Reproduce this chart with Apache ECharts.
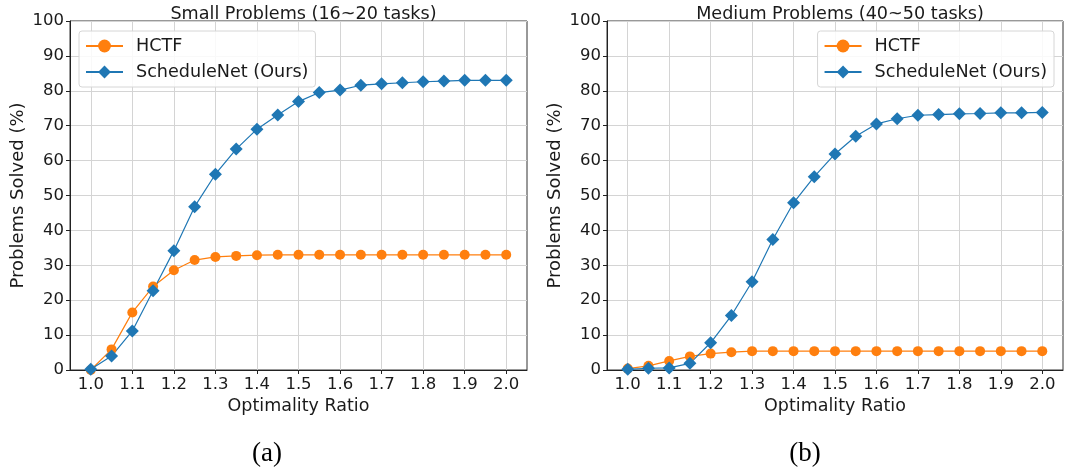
<!DOCTYPE html>
<html>
<head>
<meta charset="utf-8">
<script src="https://cdn.jsdelivr.net/npm/echarts@6/dist/echarts.min.js"></script>
<style>
  html, body { margin: 0; padding: 0; background: #fff; }
  #chart { width: 1065px; height: 469px; }
</style>
</head>
<body>
<div id="chart"></div>
<script>
// optimality ratio thresholds (x) and % of problems solved (y)
const ratios = [1.0, 1.05, 1.1, 1.15, 1.2, 1.25, 1.3, 1.35, 1.4, 1.45, 1.5,
                1.55, 1.6, 1.65, 1.7, 1.75, 1.8, 1.85, 1.9, 1.95, 2.0];
const xTicks = [1.0, 1.1, 1.2, 1.3, 1.4, 1.5, 1.6, 1.7, 1.8, 1.9, 2.0];

// (a) small problems
const hctfSmall = [0, 5.9, 16.5, 23.9, 28.6, 31.5, 32.4, 32.7, 32.9, 33.0, 33.0,
                   33.0, 33.0, 33.0, 33.0, 33.0, 33.0, 33.0, 33.0, 33.0, 33.0];
const schedSmall = [0.2, 4.0, 11.2, 22.7, 34.2, 46.8, 56.1, 63.3, 69.0, 73.1, 76.9,
                    79.5, 80.2, 81.6, 82.0, 82.3, 82.6, 82.8, 83.0, 83.0, 83.0];

// (b) medium problems
const hctfMed = [0.4, 1.2, 2.6, 3.9, 4.7, 5.1, 5.4, 5.4, 5.4, 5.4, 5.4,
                 5.4, 5.4, 5.4, 5.4, 5.4, 5.4, 5.4, 5.4, 5.4, 5.4];
const schedMed = [0.2, 0.5, 0.6, 1.9, 7.8, 15.6, 25.3, 37.4, 47.9, 55.4, 61.9,
                  67.0, 70.5, 72.0, 73.0, 73.2, 73.4, 73.5, 73.7, 73.7, 73.8];

const titles = ['Small Problems (16~20 tasks)', 'Medium Problems (40~50 tasks)'];
const captions = ['(a)', '(b)'];

const FONT = 'DejaVu Sans';
const INK = '#1a1a1a';
const ORANGE = '#ff7f0e', BLUE = '#1f77b4';
const pairs = (ys) => ratios.map((r, i) => [r, ys[i]]);

const grids = [
  { left: 70, top: 21, width: 457, height: 349 },
  { left: 607, top: 21, width: 456, height: 349 }
];

const chart = echarts.init(document.getElementById('chart'), null, { renderer: 'canvas' });

function xAxis(i) {
  return {
    type: 'value', gridIndex: i, min: 0.95, max: 2.05,
    name: 'Optimality Ratio', nameLocation: 'middle', nameGap: 25,
    nameTextStyle: { fontFamily: FONT, fontSize: 17.5, color: INK },
    axisLine: { show: true, onZero: false, lineStyle: { color: '#222', width: 1 } },
    axisTick: { show: true, length: 4, inside: false, customValues: xTicks, lineStyle: { color: '#222' } },
    axisLabel: { customValues: xTicks, margin: 6, fontFamily: FONT, fontSize: 16.5, color: INK,
                 formatter: v => v.toFixed(1) },
    splitLine: { show: true, lineStyle: { color: '#d4d4d4', width: 1 } }
  };
}

function yAxis(i) {
  return {
    type: 'value', gridIndex: i, min: 0, max: 100, interval: 10,
    name: 'Problems Solved (%)', nameLocation: 'middle', nameGap: 43,
    nameTextStyle: { fontFamily: FONT, fontSize: 18, color: INK },
    axisLine: { show: true, lineStyle: { color: '#222', width: 1 } },
    axisTick: { show: true, length: 4, lineStyle: { color: '#222' } },
    axisLabel: { margin: 6, fontFamily: FONT, fontSize: 16.5, color: INK },
    splitLine: { show: true, lineStyle: { color: '#d4d4d4', width: 1 } }
  };
}

function series(name, ys, i, color, symbol, size) {
  return {
    name, type: 'line', xAxisIndex: i, yAxisIndex: i, data: pairs(ys),
    symbol, symbolSize: size, showAllSymbol: true,
    lineStyle: { color, width: 1.2 },
    itemStyle: { color },
    emphasis: { disabled: true }
  };
}

function legend(pos) {
  return Object.assign({
    orient: 'vertical', data: ['HCTF', 'ScheduleNet (Ours)'],
    backgroundColor: 'rgba(255,255,255,0.85)', borderColor: '#d6d6d6', borderWidth: 1, borderRadius: 3,
    padding: [5, 7, 5, 6], itemGap: 6, itemWidth: 37, itemHeight: 16,
    textStyle: { fontFamily: FONT, fontSize: 17.6, color: INK, lineHeight: 20, padding: [0, 0, 0, 8] },
    selectedMode: false
  }, pos);
}

chart.setOption({
  animation: false,
  backgroundColor: '#fff',
  title: titles.map((t, i) => ({
    text: t, left: grids[i].left + grids[i].width / 2, top: 0, textAlign: 'center',
    textStyle: { fontFamily: FONT, fontSize: 17.6, fontWeight: 'normal', color: INK }
  })),
  grid: grids.map(g => Object.assign({ show: true, borderColor: '#333', borderWidth: 1, containLabel: false }, g)),
  xAxis: [xAxis(0), xAxis(1)],
  yAxis: [yAxis(0), yAxis(1)],
  legend: [legend({ left: 79, top: 31 }), legend({ right: 11, top: 31 })],
  series: [
    series('HCTF', hctfSmall, 0, ORANGE, 'circle', 10),
    series('ScheduleNet (Ours)', schedSmall, 0, BLUE, 'diamond', 13),
    series('HCTF', hctfMed, 1, ORANGE, 'circle', 10),
    series('ScheduleNet (Ours)', schedMed, 1, BLUE, 'diamond', 13)
  ],
  graphic: captions.map((c, i) => ({
    type: 'text', x: [267, 805][i], y: 454,
    style: { text: c, fontFamily: 'Liberation Serif', fontSize: 27, fill: '#000',
             align: 'center', verticalAlign: 'middle' }
  }))
});
</script>
</body>
</html>
